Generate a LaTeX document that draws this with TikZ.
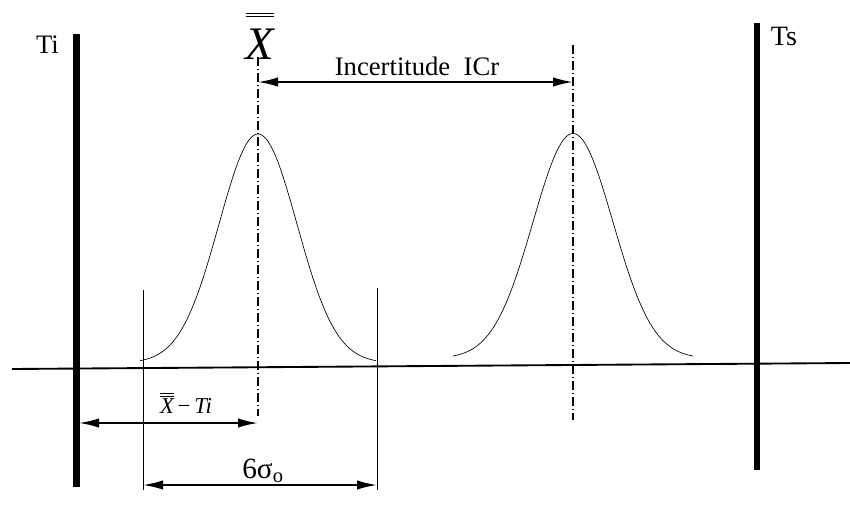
\documentclass[tikz,border=0pt]{standalone}
\usepackage{fontspec}
\setmainfont{Liberation Serif}
\usetikzlibrary{arrows.meta}
\begin{document}
\begin{tikzpicture}[x=0.75pt,y=-0.75pt,
  tol/.style={line width=4.8pt},
  axisline/.style={line width=1.4pt},
  thin/.style={line width=0.6pt},
  curve/.style={line width=0.5pt},
  center/.style={line width=0.9pt, dash pattern=on 7pt off 2pt on 1pt off 2pt},
  dim/.style={line width=1.4pt, {Latex[length=15pt,width=7pt]}-{Latex[length=15pt,width=7pt]}},
  lbl/.style={inner sep=0pt, anchor=base}]
\useasboundingbox (0,0) rectangle (850,515);
% coordinates
\coordinate (axL) at (12,369);
\coordinate (axR) at (850,363);
\coordinate (tiT) at (76.5,34);
\coordinate (tiB) at (76.5,487);
\coordinate (tsT) at (757,23);
\coordinate (tsB) at (757,470);
\coordinate (c1T) at (258,57);
\coordinate (c1B) at (258,416);
\coordinate (c2T) at (573,45);
\coordinate (c2B) at (573,420);
\coordinate (v1T) at (143,290);
\coordinate (v1B) at (143,490);
\coordinate (v2T) at (377,288);
\coordinate (v2B) at (377,490);
\coordinate (icL) at (258,82);
\coordinate (icR) at (573,82);
\coordinate (xtL) at (79,423);
\coordinate (xtR) at (258,423);
\coordinate (sgL) at (143,485);
\coordinate (sgR) at (377,485);
% axis and tolerance limits
\draw[axisline] (axL) -- (axR);
\draw[tol] (tiT) -- (tiB);
\draw[tol] (tsT) -- (tsB);
% centre lines
\draw[center] (c1T) -- (c1B);
\draw[center] (c2T) -- (c2B);
% extent lines
\draw[thin] (v1T) -- (v1B);
\draw[thin] (v2T) -- (v2B);
% gaussian curves
\draw[curve] plot[domain=140:376, samples=90] (\x, {363-229*exp(-((\x-258)*(\x-258))/3042)});
\draw[curve] plot[domain=453:693, samples=90] (\x, {358.5-225*exp(-((\x-573)*(\x-573))/3200)});
% dimension arrows
\draw[dim] (icL) -- (icR);
\draw[dim] (xtL) -- (xtR);
\draw[dim] (sgL) -- (sgR);
% labels
\node[lbl, font=\fontsize{20}{24}\selectfont] (ti) at (47.5,53) {Ti};
\node[lbl, font=\fontsize{21}{25}\selectfont] (ts) at (784,45) {Ts};
\node[lbl, font=\fontsize{35}{40}\selectfont] (xbar) at (260,59) {$\overline{\overline{\rule{0pt}{31pt}\textit{X}}}$};
\node[lbl, font=\fontsize{20}{24}\selectfont] (icr) at (417,75) {Incertitude\ \ ICr};
\node[lbl, font=\fontsize{17}{20}\selectfont] (xti) at (186,413) {$\overline{\overline{\textit{X}}}$\,−\,\textit{Ti}};
\node[lbl, font=\fontsize{22}{26}\selectfont] (sig) at (263,478) {6σ\textsubscript{o}};
\end{tikzpicture}
\end{document}
